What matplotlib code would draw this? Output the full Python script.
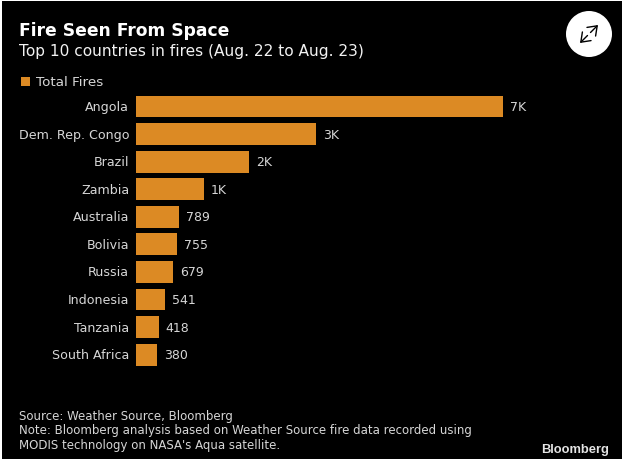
import matplotlib
matplotlib.use("Agg")
import matplotlib.pyplot as plt
from matplotlib.patches import Rectangle, Ellipse, FancyArrowPatch

W, H = 624, 464

countries = ['Angola', 'Dem. Rep. Congo', 'Brazil', 'Zambia', 'Australia',
             'Bolivia', 'Russia', 'Indonesia', 'Tanzania', 'South Africa']
total_fires = [6730, 3300, 2070, 1250, 789, 755, 679, 541, 418, 380]
value_labels = ['7K', '3K', '2K', '1K', '789', '755', '679', '541', '418', '380']

ORANGE = '#dc8a24'
LIGHT = '#d6d6d6'


def fx(px):
    return px / W


def fy(px):
    return 1 - px / H


fig = plt.figure(figsize=(W / 100, H / 100), dpi=100, facecolor='white')

# black card, leaves a thin white edge like the screenshot
fig.patches.append(Rectangle((fx(2), fy(460)), 620 / W, 458 / H, transform=fig.transFigure,
                             facecolor='black', edgecolor='none', zorder=-5))

ax = fig.add_axes([fx(136), fy(369.5), 467 / W, 275.8 / H])
ax.patch.set_alpha(0)
bars = ax.barh(countries, total_fires, height=0.79, color=ORANGE)
ax.set_xlim(0, 467 / 0.0545)
ax.set_ylim(9.5, -0.5)
for s in ax.spines.values():
    s.set_visible(False)
ax.xaxis.set_visible(False)
ax.tick_params(axis='y', length=0, pad=5, labelcolor=LIGHT, labelsize=9.1)
for lab in ax.get_yticklabels():
    lab.set_verticalalignment('center')
ax.bar_label(bars, labels=value_labels, padding=5, color=LIGHT, fontsize=9)

fig.text(fx(19), fy(31.5), 'Fire Seen From Space', color='white', fontsize=12.3, fontweight='bold', va='center')
fig.text(fx(19), fy(52), 'Top 10 countries in fires (Aug. 22 to Aug. 23)', color='#f2f2f2', fontsize=11.1, va='center')

# legend
fig.patches.append(Rectangle((fx(21), fy(87)), 9 / W, 9 / H, transform=fig.transFigure,
                             facecolor=ORANGE, edgecolor='none'))
fig.text(fx(36), fy(82.5), 'Total Fires', color=LIGHT, fontsize=9.7, va='center')

footer = ["Source: Weather Source, Bloomberg",
          "Note: Bloomberg analysis based on Weather Source fire data recorded using",
          "MODIS technology on NASA's Aqua satellite."]
for y, line in zip([416.5, 431, 445.5], footer):
    fig.text(fx(19), fy(y), line, color=LIGHT, fontsize=8.45, va='center')

fig.text(fx(609), fy(450), 'Bloomberg', color='#e4e4e4', fontsize=9.3, fontweight='bold',
         family='Liberation Sans', ha='right', va='center')

# expand button
fig.patches.append(Ellipse((fx(589), fy(35)), 46 / W, 46 / H, transform=fig.transFigure,
                           facecolor='white', edgecolor='none'))
for start, end in [((590.5, 33.5), (598, 26)), ((587.5, 36.5), (580, 44))]:
    fig.add_artist(FancyArrowPatch(
        (fx(start[0]), fy(start[1])), (fx(end[0]), fy(end[1])), transform=fig.transFigure,
        arrowstyle='->,head_length=3,head_width=2.2', mutation_scale=2, color='black', lw=1,
        shrinkA=0, shrinkB=0, zorder=5))

fig.savefig('out.png', dpi=100, facecolor='white')
